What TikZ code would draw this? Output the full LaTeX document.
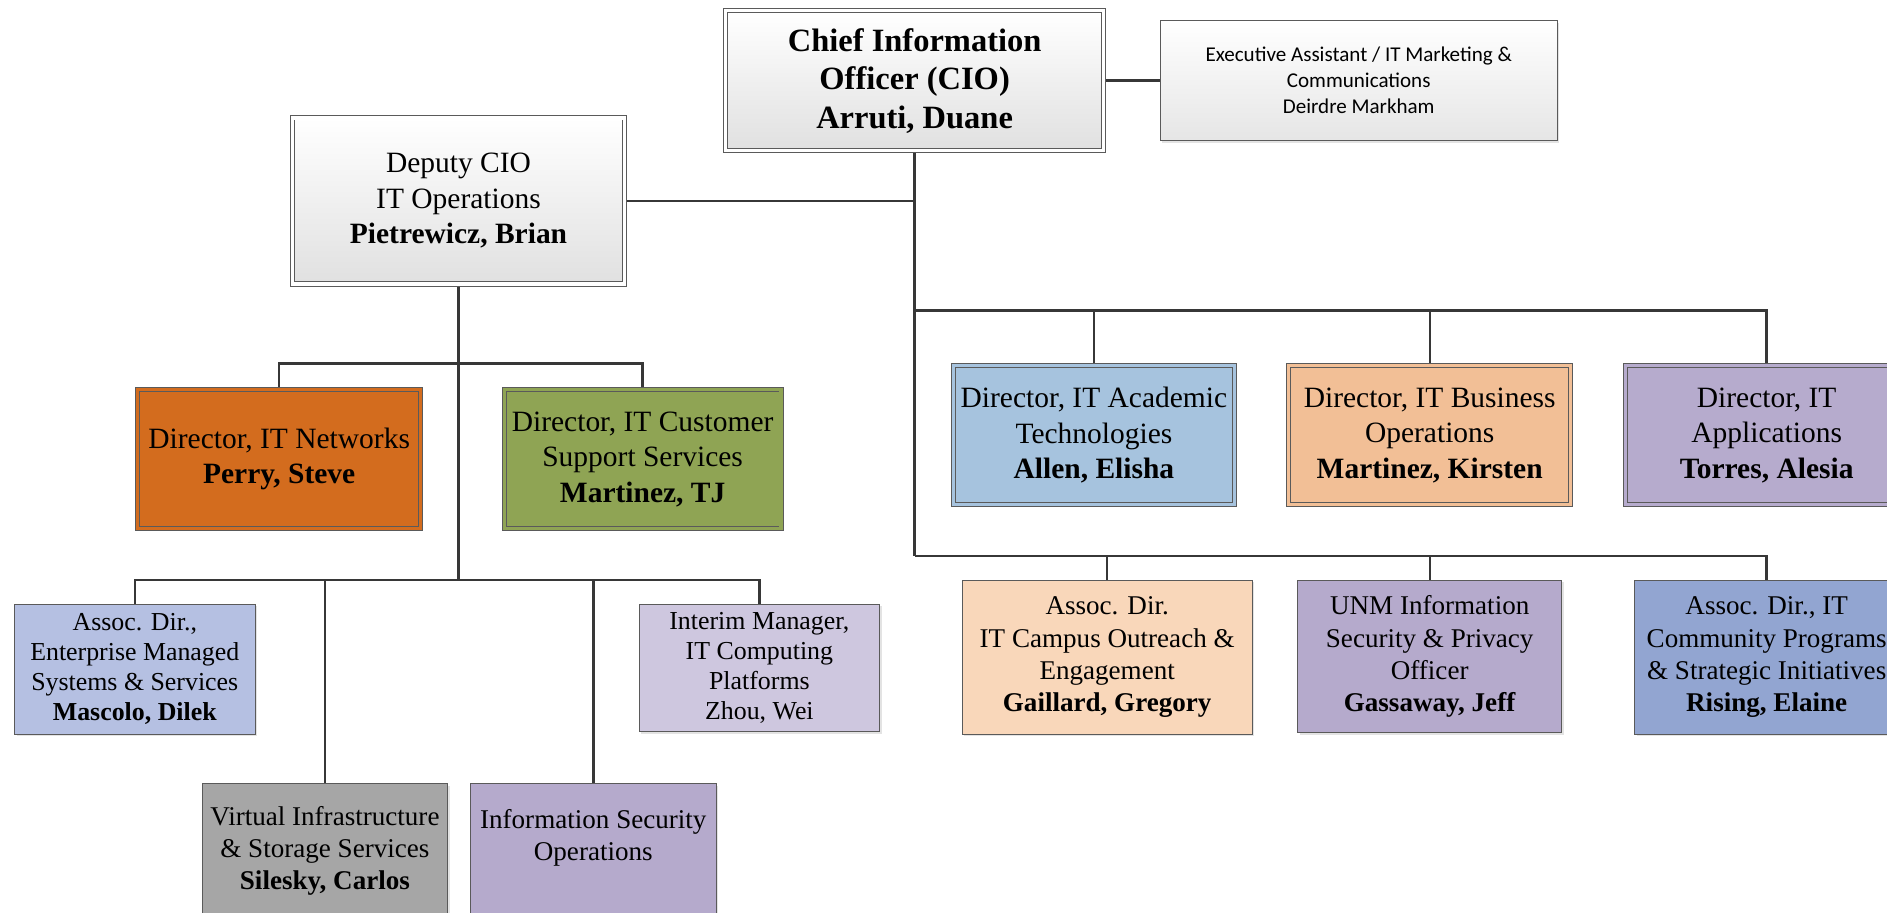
\documentclass[tikz,border=0pt]{standalone}
\usepackage{fontspec}
\setmainfont{Liberation Serif}
\newfontfamily\calib{Carlito}
\usetikzlibrary{shadows,backgrounds}
\definecolor{bordergray}{RGB}{90,90,90}
\definecolor{linegray}{RGB}{55,55,55}
\definecolor{netfill}{RGB}{211,108,30}
\definecolor{custfill}{RGB}{143,164,84}
\definecolor{acadfill}{RGB}{166,195,222}
\definecolor{busifill}{RGB}{242,191,150}
\definecolor{applfill}{RGB}{182,171,205}
\definecolor{entfill}{RGB}{181,192,226}
\definecolor{interimfill}{RGB}{206,199,223}
\definecolor{virtfill}{RGB}{166,166,166}
\definecolor{isofill}{RGB}{181,170,204}
\definecolor{gailfill}{RGB}{249,215,186}
\definecolor{gassfill}{RGB}{181,170,204}
\definecolor{risefill}{RGB}{146,165,209}
\begin{document}
\begin{tikzpicture}[x=1pt,y=-1pt,
  box/.style={draw=bordergray, line width=0.8pt, inner sep=0pt, outer sep=0pt, align=center,
    drop shadow={shadow xshift=1.8pt, shadow yshift=-1.8pt, opacity=0.22}},
  dbox/.style={box, double distance=2.6pt},
  link/.style={draw=linegray, line width=2pt},
  ftop/.style={font=\fontsize{27}{32}\selectfont\bfseries},
  fdir/.style={font=\fontsize{24.5}{29.5}\selectfont},
  fsmall/.style={font=\fontsize{21.5}{25}\selectfont},
  fmid/.style={font=\fontsize{22.5}{26.7}\selectfont},
]
\useasboundingbox (0,0) rectangle (1568,758.6);

% top level
\node[dbox, top color=white, bottom color=black!12, double=white,
      minimum width=314pt, minimum height=116pt, ftop] (cio) at (760,67)
  {Chief Information\\Officer (CIO)\\Arruti, Duane};
\node[box, top color=white, bottom color=black!10,
      minimum width=330pt, minimum height=100pt,
      font=\calib\fontsize{17.5}{21.5}\selectfont] (exec) at (1129,67)
  {Executive Assistant / IT Marketing \&\\Communications\\Deirdre Markham};
\node[dbox, top color=white, bottom color=black!12, double=white,
      minimum width=276pt, minimum height=138pt, fdir] (dep) at (381,167)
  {Deputy CIO\\IT Operations\\\textbf{Pietrewicz, Brian}};

% directors
\node[dbox, fill=netfill, double=netfill, minimum width=235pt, minimum height=115pt, fdir]
  (net) at (232,381.5) {Director, IT Networks\\\textbf{Perry, Steve}};
\node[dbox, fill=custfill, double=custfill, minimum width=230pt, minimum height=115pt, fdir]
  (cust) at (534,381.5) {Director, IT Customer\\Support Services\\\textbf{Martinez, TJ}};
\node[dbox, fill=acadfill, double=acadfill, minimum width=234pt, minimum height=115pt, fdir]
  (acad) at (909,361.5) {Director, IT Academic\\Technologies\\\textbf{Allen, Elisha}};
\node[dbox, fill=busifill, double=busifill, minimum width=234pt, minimum height=115pt, fdir]
  (busi) at (1188,361.5) {Director, IT Business\\Operations\\\textbf{Martinez, Kirsten}};
\node[dbox, fill=applfill, double=applfill, minimum width=234pt, minimum height=115pt, fdir]
  (appl) at (1468,361.5) {Director, IT\\Applications\\\textbf{Torres, Alesia}};

% lower left
\node[box, fill=entfill, minimum width=200pt, minimum height=108pt, fsmall]
  (ent) at (112,556) {Assoc. Dir.,\\Enterprise Managed\\Systems \& Services\\\textbf{Mascolo, Dilek}};
\node[box, fill=interimfill, minimum width=200pt, minimum height=106pt, fsmall]
  (interim) at (631,555) {Interim Manager,\\IT Computing\\Platforms\\Zhou, Wei};
\node[box, fill=virtfill, minimum width=204pt, minimum height=112pt, fmid]
  (virt) at (270,707) {Virtual Infrastructure\\\& Storage Services\\\textbf{Silesky, Carlos}};
\node[box, fill=isofill, minimum width=204pt, minimum height=112pt, fmid]
  (iso) at (493,707) {Information Security\\Operations\\\mbox{}};

% lower right
\node[box, fill=gailfill, minimum width=241pt, minimum height=128pt, fmid]
  (gail) at (920,546) {Assoc. Dir.\\IT Campus Outreach \&\\Engagement\\\textbf{Gaillard, Gregory}};
\node[box, fill=gassfill, minimum width=219pt, minimum height=127pt, fmid]
  (gass) at (1188,545.5) {UNM Information\\Security \& Privacy\\Officer\\\textbf{Gassaway, Jeff}};
\node[box, fill=risefill, minimum width=219pt, minimum height=128pt, fmid]
  (rise) at (1468,546) {Assoc. Dir., IT\\Community Programs\\\& Strategic Initiatives\\\textbf{Rising, Elaine}};

\coordinate (j1) at (760,258);
\coordinate (j2) at (760,462);
\coordinate (d1) at (381,302);
\coordinate (d2) at (381,482);

\begin{scope}[on background layer]
\fill[white] (0,0) rectangle (1568,758.6);
\draw[link] (cio.east) -- (exec.west);
\draw[link] (cio.south) -- (j2);
\draw[link] (dep.east) -- (dep.east -| cio.south);
\draw[link] (j1) -| (appl.north);
\draw[link] (j1 -| acad.north) -- (acad.north);
\draw[link] (j1 -| busi.north) -- (busi.north);
\draw[link] (j2) -| (rise.north);
\draw[link] (j2 -| gail.north) -- (gail.north);
\draw[link] (j2 -| gass.north) -- (gass.north);
\draw[link] (dep.south) -- (d2);
\draw[link] (net.north) |- (d1) -| (cust.north);
\draw[link] (ent.north) |- (d2) -| (interim.north);
\draw[link] (d2 -| virt.north) -- (virt.north);
\draw[link] (d2 -| iso.north) -- (iso.north);
\end{scope}
\end{tikzpicture}
\end{document}
